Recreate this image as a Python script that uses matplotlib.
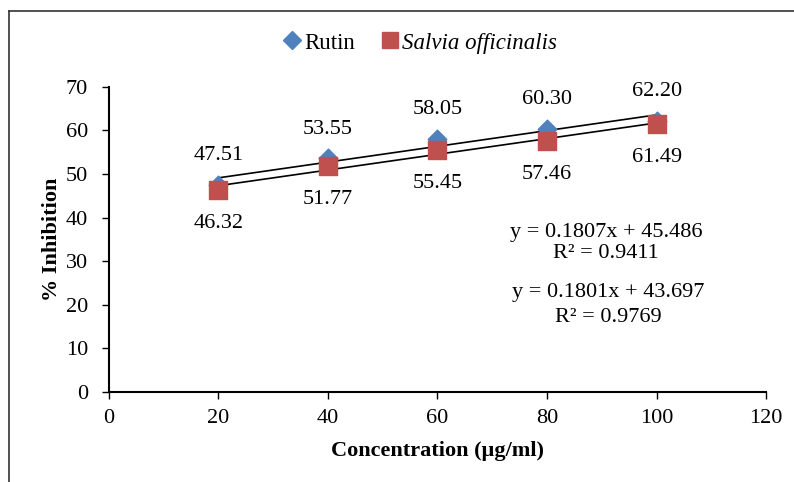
import matplotlib
matplotlib.use("Agg")
import matplotlib.pyplot as plt
from matplotlib.lines import Line2D
import numpy as np

plt.rcParams['font.family'] = ['Liberation Serif', 'DejaVu Serif']

conc = [20, 40, 60, 80, 100]
rutin = [47.51, 53.55, 58.05, 60.30, 62.20]
salvia = [46.32, 51.77, 55.45, 57.46, 61.49]
rutin_fit = (0.1807, 45.486)
salvia_fit = (0.1801, 43.697)
rutin_eq = ["y = 0.1807x + 45.486", "R² = 0.9411"]
salvia_eq = ["y = 0.1801x + 43.697", "R² = 0.9769"]

FS = 16

fig = plt.figure(figsize=(7.94, 4.82), dpi=100)
ax = fig.add_axes([0.137, 0.187, 0.828, 0.633])

# frame lines (top and left) of the chart area
fig.add_artist(Line2D([0.011, 1.0], [0.977, 0.977], color='#333333', lw=1.2, transform=fig.transFigure))
fig.add_artist(Line2D([0.011, 0.011], [0.0, 0.977], color='#333333', lw=1.2, transform=fig.transFigure))

x = np.array(conc, dtype=float)
ax.plot(x, rutin_fit[0] * x + rutin_fit[1], color='black', lw=1.2, zorder=2)
ax.plot(x, salvia_fit[0] * x + salvia_fit[1], color='black', lw=1.2, zorder=2)
ax.scatter(conc, rutin, marker='D', s=90, color='#4F81BD', zorder=3, label='Rutin')
ax.scatter(conc, salvia, marker='s', s=170, color='#C0504D', zorder=4, label='Salvia officinalis')

for xi, yi in zip(conc, rutin):
    ax.annotate(f"{yi:.2f}", (xi, yi), xytext=(0, 21), textcoords='offset points',
                ha='center', va='center', fontsize=FS)
for xi, yi in zip(conc, salvia):
    ax.annotate(f"{yi:.2f}", (xi, yi), xytext=(0, -24), textcoords='offset points',
                ha='center', va='center', fontsize=FS)

fig.text(606 / 794, 1 - 232 / 482, rutin_eq[0], ha='center', va='center', fontsize=FS)
fig.text(606 / 794, 1 - 254 / 482, rutin_eq[1], ha='center', va='center', fontsize=FS)
fig.text(608 / 794, 1 - 293 / 482, salvia_eq[0], ha='center', va='center', fontsize=FS)
fig.text(608 / 794, 1 - 318 / 482, salvia_eq[1], ha='center', va='center', fontsize=FS)

ax.set_xlim(0, 120)
ax.set_ylim(0, 70)
ax.set_xticks(range(0, 121, 20))
ax.set_yticks(range(0, 71, 10))
for s in ['top', 'right']:
    ax.spines[s].set_visible(False)
for s in ['left', 'bottom']:
    ax.spines[s].set_linewidth(1.5)
    ax.spines[s].set_color('black')
ax.tick_params(axis='both', direction='out', length=5, width=1, labelsize=FS)
ax.tick_params(axis='y', pad=10)
ax.tick_params(axis='x', pad=7)
ax.set_xlabel('Concentration (µg/ml)', fontsize=FS, fontweight='bold', labelpad=10)
ax.set_ylabel('% Inhibition', fontsize=FS, fontweight='bold', labelpad=3)

leg = fig.legend(handles=[
    Line2D([], [], marker='D', color='#4F81BD', ls='none', markersize=9, label='Rutin'),
    Line2D([], [], marker='s', color='#C0504D', ls='none', markersize=11, label='Salvia officinalis')],
    loc='center', bbox_to_anchor=(419 / 794, 1 - 43 / 482), ncol=2, frameon=False, fontsize=16.5,
    handletextpad=0.05, columnspacing=1.0, handlelength=1.0)
leg.get_texts()[1].set_fontstyle('italic')

fig.savefig('out.png', dpi=100)
